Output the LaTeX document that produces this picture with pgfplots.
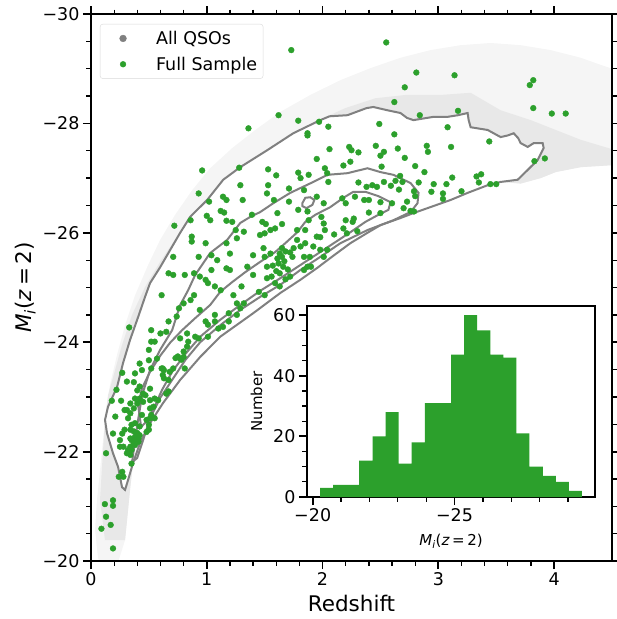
\documentclass[border=0pt]{standalone}
\usepackage{fontspec}
\setmainfont{DejaVu Sans}
\usepackage{pgfplots}
\pgfplotsset{compat=1.18}
\definecolor{qgreen}{RGB}{44,160,44}
\definecolor{cgray}{RGB}{128,128,128}
\newcommand{\Mi}{\textit{M}\textsubscript{\textit{i}}(\textit{z}\,=\,2)}
\begin{document}
\begin{tikzpicture}
\begin{axis}[
  scale only axis, width=521pt, height=547pt,
  xmin=0, xmax=4.5, ymin=-30, ymax=-20, y dir=reverse,
  axis on top,
  tick align=outside, tick pos=both,
  xtick={0,1,2,3,4}, xticklabels={0,1,2,3,4}, minor x tick num=4,
  ytick={-30,-28,-26,-24,-22,-20}, yticklabels={−30,−28,−26,−24,−22,−20},
  minor y tick num=3,
  major tick length=8pt, minor tick length=4.5pt,
  every major tick/.style={line width=1.8pt, black},
  every minor tick/.style={line width=1.3pt, black},
  axis line style={line width=2.5pt},
  tick label style={font=\fontsize{17.5}{20}\selectfont},
  label style={font=\fontsize{21.5}{25}\selectfont},
  xlabel={Redshift}, ylabel={\Mi},
  xlabel style={yshift=-3pt},
  legend style={at={(0.017,0.982)}, anchor=north west, draw=black!15, rounded corners=3pt,
    fill=white, fill opacity=0.8, text opacity=1, font=\fontsize{17.5}{21}\selectfont,
    inner xsep=4pt, inner ysep=5pt, row sep=7pt},
  legend image code/.code={\path[draw=none, fill=none] (0pt,-6pt) rectangle (50pt,6pt); \draw[#1, fill opacity=1, draw opacity=1] plot coordinates {(19pt,0pt)};},
  legend cell align=left,
]
% All QSOs cloud (light envelope)
\addplot[fill=black!4, draw=none, forget plot] coordinates {
(0.061,-20.05) (0.035,-20.57) (0.052,-21.12) (0.078,-21.66) (0.104,-22.21) (0.130,-22.76)
(0.164,-23.22) (0.225,-23.77) (0.294,-24.31) (0.381,-24.86) (0.493,-25.41) (0.597,-25.87)
(0.727,-26.33) (0.874,-26.78) (1.029,-27.18) (1.220,-27.55) (1.419,-27.88) (1.635,-28.21)
(1.894,-28.52) (2.154,-28.79) (2.413,-29.01) (2.673,-29.20) (2.933,-29.34) (3.192,-29.43)
(3.452,-29.47) (3.711,-29.43) (3.971,-29.34) (4.230,-29.20) (4.403,-29.07) (4.53,-28.98)
(4.53,-27.24) (4.230,-27.20) (4.014,-27.11) (3.884,-27.00) (3.711,-26.90) (3.538,-26.93)
(3.426,-26.87) (3.253,-26.73) (3.106,-26.60) (2.932,-26.47) (2.785,-26.36) (2.673,-26.27)
(2.500,-26.14) (2.388,-26.00) (2.240,-25.81) (2.093,-25.58) (1.955,-25.36) (1.808,-25.14)
(1.635,-24.90) (1.401,-24.53) (1.116,-24.10) (0.943,-23.73) (0.770,-23.31) (0.623,-22.89)
(0.510,-22.52) (0.424,-22.16) (0.363,-21.79) (0.337,-21.30) (0.320,-20.93) (0.294,-20.38)
(0.234,-19.98) (0.078,-19.98)} -- cycle;
% denser band along the outer contour
\addplot[fill=black!9, draw=none, forget plot] coordinates {
(0.121,-20.38) (0.078,-21.12) (0.104,-22.03) (0.121,-22.58) (0.147,-23.03) (0.208,-23.49)
(0.268,-23.95) (0.355,-24.50) (0.467,-25.01) (0.597,-25.47) (0.753,-25.96) (0.900,-26.36)
(1.073,-26.78) (1.246,-27.11) (1.462,-27.42) (1.678,-27.73) (1.938,-28.03) (2.197,-28.28)
(2.457,-28.46) (2.716,-28.52) (3.019,-28.52) (3.279,-28.56) (3.538,-28.24) (3.798,-28.06)
(4.014,-27.88) (4.230,-27.70) (4.53,-27.51)
(4.53,-27.24) (4.230,-27.20) (4.014,-27.11) (3.884,-27.00) (3.711,-26.90) (3.538,-26.93)
(3.426,-26.87) (3.253,-26.73) (3.106,-26.60) (2.932,-26.47) (2.785,-26.36) (2.673,-26.27)
(2.500,-26.14) (2.388,-26.00) (2.240,-25.81) (2.093,-25.58) (1.955,-25.36) (1.808,-25.14)
(1.635,-24.90) (1.401,-24.53) (1.116,-24.10) (0.943,-23.73) (0.770,-23.31) (0.623,-22.89)
(0.510,-22.52) (0.424,-22.16) (0.363,-21.79) (0.337,-21.30) (0.320,-20.93) (0.294,-20.38)} -- cycle;
% outer contour (white inside)
\addplot[fill=white, draw=cgray, line width=2pt, forget plot] coordinates {
(0.294,-21.30) (0.268,-21.35) (0.234,-21.72) (0.190,-21.97) (0.138,-22.34) (0.121,-22.58)
(0.147,-22.82) (0.225,-23.18) (0.277,-23.62) (0.337,-24.04) (0.407,-24.46) (0.467,-24.83)
(0.510,-25.08) (0.597,-25.37) (0.770,-26.00) (0.856,-26.29) (1.003,-26.60) (1.142,-26.97)
(1.289,-27.20) (1.522,-27.51) (1.747,-27.82) (1.981,-28.06) (2.060,-28.13) (2.215,-28.15)
(2.380,-28.28) (2.439,-28.30) (2.561,-28.24) (2.673,-28.19) (2.730,-28.10) (2.785,-28.06)
(2.958,-28.12) (3.080,-28.12) (3.170,-28.15) (3.253,-28.19) (3.262,-28.06) (3.279,-27.93)
(3.426,-27.88) (3.538,-27.75) (3.600,-27.78) (3.651,-27.82) (3.690,-27.73) (3.711,-27.64)
(3.772,-27.57) (3.824,-27.64) (3.901,-27.64) (3.910,-27.55) (3.858,-27.33) (3.772,-27.15)
(3.685,-26.97) (3.538,-26.93) (3.426,-26.87) (3.253,-26.73) (3.106,-26.60) (2.932,-26.47)
(2.785,-26.36) (2.673,-26.27) (2.500,-26.14) (2.388,-26.00) (2.240,-25.81) (2.093,-25.58)
(1.955,-25.36) (1.808,-25.14) (1.635,-24.90) (1.401,-24.53) (1.116,-24.10) (0.943,-23.73)
(0.770,-23.31) (0.623,-22.89) (0.510,-22.52) (0.424,-22.16) (0.363,-21.79) (0.320,-21.48)} -- cycle;
% inner contours
\addplot[draw=cgray, line width=2pt, forget plot] coordinates {
(0.355,-21.81) (0.381,-22.21) (0.407,-22.58) (0.441,-23.03) (0.510,-23.49) (0.597,-23.86)
(0.701,-24.22) (0.770,-24.68) (0.839,-24.95) (0.900,-25.23) (1.029,-25.63) (1.176,-25.87)
(1.289,-26.18) (1.375,-26.29) (1.462,-26.38) (1.574,-26.54) (1.721,-26.73) (1.920,-26.93)
(2.042,-27.06) (2.215,-27.09) (2.388,-27.18) (2.500,-27.11) (2.612,-27.06) (2.760,-26.91)
(2.829,-26.73) (2.820,-26.54) (2.760,-26.38) (2.612,-26.23) (2.388,-26.05) (2.154,-25.81)
(1.981,-25.56) (1.808,-25.32) (1.635,-25.05) (1.462,-24.83) (1.289,-24.59) (1.116,-24.31)
(0.943,-24.00) (0.813,-23.67) (0.701,-23.31) (0.597,-22.98) (0.510,-22.61) (0.450,-22.21)
(0.398,-21.88)} -- cycle;
\addplot[draw=cgray, line width=2pt, forget plot] coordinates {
(0.433,-22.45) (0.407,-22.85) (0.441,-23.16) (0.510,-23.46) (0.597,-23.75) (0.683,-23.99)
(0.787,-24.22) (0.900,-24.44) (1.029,-24.68) (1.116,-24.92) (1.220,-25.10) (1.332,-25.28)
(1.462,-25.47) (1.592,-25.65) (1.678,-25.81) (1.782,-26.01) (1.851,-26.20) (1.938,-26.33)
(2.067,-26.47) (2.180,-26.64) (2.266,-26.75) (2.370,-26.75) (2.483,-26.67) (2.587,-26.56)
(2.569,-26.42) (2.483,-26.33) (2.370,-26.20) (2.240,-26.01) (2.111,-25.83) (1.981,-25.65)
(1.808,-25.41) (1.635,-25.17) (1.462,-24.94) (1.289,-24.68) (1.116,-24.41) (0.943,-24.10)
(0.813,-23.78) (0.701,-23.46) (0.614,-23.13) (0.554,-22.85) (0.493,-22.58)} -- cycle;
\addplot[draw=cgray, line width=2pt, forget plot] coordinates {
(1.825,-26.54) (1.851,-26.64) (1.894,-26.65) (1.929,-26.60) (1.912,-26.51) (1.860,-26.45)
(1.825,-26.49)} -- cycle;
\addlegendimage{only marks, mark=*, mark size=3.4pt, cgray}
\addlegendentry{All QSOs}
\addplot[only marks, mark=*, mark size=2.9pt, qgreen] coordinates {
(1.73,-29.34) (1.62,-28.15) (1.36,-27.91) (1.79,-28.05) (0.96,-27.14) (1.28,-27.19)
(0.93,-26.72) (1.02,-26.57) (0.72,-26.13) (0.86,-26.23) (1.29,-26.87) (1.53,-27.16)
(1.53,-26.87) (1.71,-26.81) (1.79,-27.10) (1.60,-27.05) (1.14,-26.66) (1.17,-26.60) (1.31,-26.60)
(1.52,-26.72) (1.58,-26.60) (1.71,-26.57) (1.61,-26.36) (1.79,-26.42) (1.12,-26.40)
(1.15,-26.37) (1.00,-26.31) (1.03,-26.23) (1.17,-26.22) (1.22,-26.20) (1.39,-26.33)
(1.48,-26.20) (1.51,-26.16) (1.55,-26.05) (1.59,-26.08) (1.65,-26.16) (1.25,-26.05)
(1.32,-26.02) (0.87,-25.93) (0.87,-25.84) (0.99,-25.81) (1.17,-25.81) (1.26,-25.90)
(1.46,-25.96) (1.50,-25.99) (1.78,-26.05) (1.65,-25.72) (1.68,-25.66) (1.65,-25.56)
(1.74,-25.56) (1.78,-25.87) (1.75,-25.72) (0.71,-25.56) (1.04,-25.59) (0.93,-25.56)
(1.09,-25.50) (1.20,-25.62) (1.40,-25.59) (1.49,-25.72) (1.50,-25.56) (1.61,-25.53)
(1.62,-25.44) (1.66,-25.38) (0.67,-25.26) (0.71,-25.23) (0.81,-25.23) (0.89,-25.26)
(0.94,-25.20) (1.04,-25.32) (1.17,-25.35) (1.20,-25.32) (1.35,-25.38) (1.52,-25.38)
(1.40,-25.23) (1.52,-25.17) (1.56,-25.20) (1.63,-25.26) (1.72,-25.20) (1.59,-25.08)
(1.63,-25.02) (0.99,-25.14) (1.01,-25.08) (1.07,-25.02) (1.12,-24.95) (1.23,-24.86)
(0.61,-24.86) (0.89,-24.86) (1.30,-25.02) (1.45,-24.92) (1.50,-24.86)
(1.63,-25.62) (1.67,-25.48) (1.70,-25.33) (1.60,-25.30) (1.68,-25.15) (1.57,-25.40)
(1.72,-25.64) (1.55,-25.62)
(1.26,-24.71) (1.32,-24.71) (1.29,-24.62) (0.94,-24.59) (1.07,-24.50) (1.19,-24.53)
(0.80,-24.71) (0.86,-24.77) (0.76,-24.62) (0.74,-24.47) (0.67,-24.38) (0.65,-24.19)
(0.60,-24.16) (0.52,-24.22) (0.33,-24.27) (0.52,-24.01) (0.55,-24.01) (0.50,-23.86)
(0.57,-23.70) (0.62,-23.52) (0.62,-23.40) (0.68,-23.46) (0.67,-23.31) (0.77,-24.07)
(0.83,-24.16) (0.84,-24.01) (0.90,-24.10) (0.93,-24.07) (0.99,-24.38) (1.01,-24.32)
(1.07,-24.38) (1.10,-24.25) (1.14,-24.28) (1.19,-24.38) (1.26,-24.50) (1.01,-24.10)
(0.83,-23.92) (0.80,-23.83) (0.75,-23.74) (0.73,-23.71) (0.78,-23.68) (0.71,-23.52)
(0.67,-23.10) (0.58,-22.94) (0.55,-22.97) (0.51,-22.94) (0.54,-22.82) (0.52,-22.67)
(0.55,-22.61) (0.44,-22.67) (0.42,-22.97) (0.38,-23.43) (0.37,-23.27) (0.42,-23.19)
(0.45,-23.06) (0.50,-22.49) (0.48,-22.36) (0.42,-22.46) (0.38,-22.97) (0.34,-22.88)
(0.31,-22.76) (0.34,-22.70) (0.32,-22.61) (0.38,-22.52) (0.34,-22.40) (0.37,-22.37)
(0.40,-22.34) (0.41,-22.24) (0.38,-22.18) (0.35,-22.21) (0.32,-22.03) (0.34,-21.94)
(0.31,-21.97) (0.28,-22.09) (0.25,-22.21) (0.21,-22.64) (0.18,-22.93) (0.22,-23.13)
(0.26,-22.93) (0.29,-22.76) (0.19,-22.33) (0.27,-21.63) (0.24,-21.54) (0.28,-21.54)
(0.35,-21.78) (0.13,-21.97) (0.12,-21.04) (0.19,-21.11) (0.19,-21.01) (0.13,-20.81)
(0.09,-20.59) (0.17,-20.66) (0.19,-20.23) (0.27,-23.44) (0.50,-23.67) (0.65,-23.06)
(0.37,-22.79) (0.40,-22.88) (0.45,-22.91) (0.51,-22.79) (0.35,-22.49) (0.29,-22.40)
(0.42,-22.30) (0.38,-22.27) (0.34,-22.24) (0.41,-22.18) (0.38,-22.12) (0.34,-22.09)
(0.35,-22.03) (0.37,-22.15) (0.25,-22.09) (0.27,-22.33) (0.48,-22.58) (0.51,-22.61)
(0.50,-22.40) (0.31,-23.28) (0.47,-23.03) (0.51,-23.15) (0.40,-23.12) (0.52,-23.52)
(0.44,-23.49) (0.63,-23.49) (0.63,-23.34) (0.42,-23.61) (0.61,-23.52) (0.77,-23.70)
(0.80,-23.73) (0.81,-23.52)
(2.55,-29.48) (2.81,-28.93) (3.14,-28.88) (2.71,-28.66) (2.62,-28.39) (3.82,-28.79)
(3.79,-28.70) (3.82,-28.28) (3.98,-28.18) (4.10,-28.18) (3.17,-28.23) (2.84,-28.15)
(3.08,-27.93) (2.62,-27.80) (3.44,-27.67) (2.90,-27.59) (2.91,-27.48) (3.11,-27.57)
(2.65,-27.54) (2.53,-27.48) (2.50,-27.41) (2.71,-27.37) (3.83,-27.31) (3.92,-27.36)
(2.80,-27.22) (2.51,-27.21) (2.88,-27.11) (3.12,-27.01) (3.33,-27.03) (3.37,-27.07)
(3.35,-26.92) (3.45,-26.89) (3.50,-26.89) (2.67,-27.04) (2.63,-26.95) (2.69,-26.93)
(2.59,-26.86) (2.53,-26.93) (2.83,-26.92) (2.96,-26.89) (3.07,-26.89) (2.94,-26.75)
(3.04,-26.72) (3.04,-26.62) (3.20,-26.76) (2.79,-26.76) (2.80,-26.67) (2.66,-26.79)
(2.60,-26.54) (2.50,-26.56) (2.73,-26.57) (2.70,-26.45) (2.76,-26.40) (2.79,-26.39)
(2.50,-26.36)
(2.49,-27.99) (1.97,-28.03) (2.05,-27.94) (1.87,-27.82) (1.87,-27.78) (2.06,-27.53)
(2.23,-27.57) (2.25,-27.51) (2.31,-27.47) (2.46,-27.59) (1.95,-27.35) (2.02,-27.18)
(2.04,-27.09) (2.05,-26.93) (1.81,-27.00) (1.88,-27.06) (1.84,-26.78) (1.95,-26.66)
(2.01,-26.54) (1.87,-26.39) (2.18,-27.23) (2.24,-27.30) (2.31,-26.92) (2.43,-26.87)
(2.47,-26.84) (2.38,-26.84) (2.17,-26.63) (2.20,-26.54) (2.28,-26.66) (2.36,-26.60)
(2.40,-26.60) (2.40,-26.37) (2.27,-26.26) (2.26,-26.20) (2.20,-26.23) (2.18,-26.08)
(2.30,-26.03) (2.21,-25.99) (2.10,-25.97) (1.99,-26.29) (2.01,-26.17) (2.02,-26.05)
(1.88,-26.23) (1.85,-26.05) (1.95,-25.93) (1.98,-25.92) (1.92,-25.75) (1.85,-25.81)
(1.81,-25.75) (1.98,-25.69) (2.04,-25.69) (1.89,-25.56) (1.84,-25.56) (2.01,-25.56)
(1.87,-25.38) (1.90,-25.38) (1.84,-25.32)};
\addlegendentry{Full Sample}
\end{axis}
\begin{axis}[
  at={(216pt,64pt)}, anchor=south west,
  scale only axis, width=288pt, height=191pt,
  xmin=-29.95, xmax=-19.80, x dir=reverse, ymin=0, ymax=63,
  axis background/.style={fill=white},
  tick align=outside, tick pos=left,
  xtick={-20,-25}, xticklabels={−20,−25},
  minor xtick={-21,-22,-23,-24,-26,-27,-28,-29},
  ytick={0,20,40,60}, yticklabels={0,20,40,60},
  minor ytick={5,10,15,25,30,35,45,50,55},
  major tick length=8pt, minor tick length=4.5pt,
  every major tick/.style={line width=1.8pt, black},
  every minor tick/.style={line width=1.3pt, black},
  axis line style={line width=2.5pt},
  tick label style={font=\fontsize{17.5}{20}\selectfont},
  label style={font=\fontsize{15}{18}\selectfont},
  xlabel={\Mi}, ylabel={Number},
  xlabel style={yshift=-5pt}, ylabel style={yshift=4pt},
]
\addplot[ybar interval, fill=qgreen, draw=none] coordinates {
(-29.49,2) (-29.03,5) (-28.57,7) (-28.11,10) (-27.64,21) (-27.18,46) (-26.72,47)
(-26.26,55) (-25.80,60) (-25.34,47) (-24.88,31) (-24.41,31) (-23.95,18) (-23.49,11)
(-23.03,28) (-22.57,20) (-22.11,12) (-21.64,4) (-21.18,4) (-20.72,3) (-20.26,0)};
\end{axis}
\pgfresetboundingbox
\path[use as bounding box] (-91pt,-58pt) rectangle (526pt,561pt);
\end{tikzpicture}
\end{document}
